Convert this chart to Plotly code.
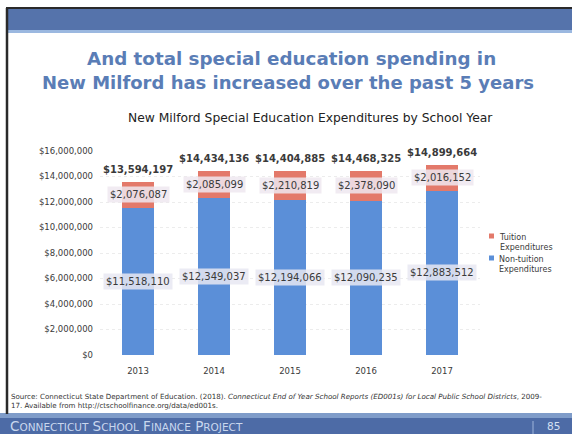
import plotly.graph_objects as go

# School years and expenditure components (USD)
years = ["2013", "2014", "2015", "2016", "2017"]
non_tuition = [11518110, 12349037, 12194066, 12090235, 12883512]
tuition = [2076087, 2085099, 2210819, 2378090, 2016152]
totals = [a + b for a, b in zip(non_tuition, tuition)]

tick_vals = [0, 2e6, 4e6, 6e6, 8e6, 10e6, 12e6, 14e6, 16e6]
tick_text = ["$0", "$2,000,000", "$4,000,000", "$6,000,000", "$8,000,000",
             "$10,000,000", "$12,000,000", "$14,000,000", "$16,000,000"]

series_names = ["Tuition<br>Expenditures", "Non-tuition<br>Expenditures"]

W, H = 572, 434
L, R, T, B = 100, 92, 151, 79
PW, PH = W - L - R, H - T - B


def px(x):
    return (x - L) / PW


def py(y):
    return (H - B - y) / PH


FONT = "DejaVu Sans"
TXT = "#3a3a3a"
BLUE = "#5b8fd8"
RED = "#e3796a"
TITLE = "#5a7db6"


def money(v):
    return "${:,}".format(v)


def page_text(x, y, text, size, color, xanchor="center"):
    return dict(xref="paper", yref="paper", x=px(x), y=py(y), text=text,
                xanchor=xanchor, yanchor="middle", showarrow=False,
                font=dict(family=FONT, size=size, color=color))


fig = go.Figure()
fig.add_trace(go.Bar(x=years, y=non_tuition, name=series_names[1],
                     marker=dict(color=BLUE, line=dict(width=0)), width=0.41))
fig.add_trace(go.Bar(x=years, y=tuition, name=series_names[0],
                     marker=dict(color=RED, line=dict(width=0)), width=0.41))

ann = []
for i, yr in enumerate(years):
    # category axis: annotations are placed by category index
    ann.append(dict(x=i, y=non_tuition[i] / 2, text=money(non_tuition[i]),
                    showarrow=False, font=dict(family=FONT, size=10, color=TXT),
                    bgcolor="rgba(232,232,242,0.85)", borderpad=2))
    ann.append(dict(x=i, y=non_tuition[i] + tuition[i] / 2, text=money(tuition[i]),
                    showarrow=False, font=dict(family=FONT, size=10, color=TXT),
                    bgcolor="rgba(238,232,240,0.85)", borderpad=2))
    ann.append(dict(x=i, y=totals[i], text="<b>" + money(totals[i]) + "</b>",
                    showarrow=False, yanchor="bottom", yshift=5,
                    font=dict(family=FONT, size=10, color=TXT)))

# Legend drawn as swatches + labels beside the plot
legend_rows = [(236, RED, series_names[0]), (258, BLUE, series_names[1])]
shapes = []
for ly, col, name in legend_rows:
    shapes.append(dict(type="rect", xref="paper", yref="paper",
                       x0=px(489), x1=px(494), y0=py(ly + 2.5), y1=py(ly - 2.5),
                       fillcolor=col, line=dict(width=0)))
    ann.append(dict(xref="paper", yref="paper", x=px(497), y=py(ly - 5),
                    xanchor="left", yanchor="top", align="left", text=name,
                    showarrow=False, font=dict(family=FONT, size=8, color=TXT)))

# Slide heading
ann.append(page_text(291, 58, "<b>And total special education spending in</b>", 18.3, TITLE))
ann.append(page_text(288, 82, "<b>New Milford has increased over the past 5 years</b>", 18, TITLE))
# Chart title
ann.append(page_text(310, 118, "New Milford Special Education Expenditures by School Year",
                     12.3, "#222222"))
# Source note
ann.append(page_text(9, 396,
                     "Source: Connecticut State Department of Education. (2018). "
                     "<i>Connecticut End of Year School Reports (ED001s) for Local Public School Districts</i>, 2009-",
                     7.1, "#333333", xanchor="left"))
ann.append(page_text(9, 405, "17. Available from http://ctschoolfinance.org/data/ed001s.",
                     7.1, "#333333", xanchor="left"))
# Footer text
ann.append(page_text(8, 426,
                     "C<span style='font-size:10.5px'>ONNECTICUT</span> S<span style='font-size:10.5px'>CHOOL</span> "
                     "F<span style='font-size:10.5px'>INANCE</span> P<span style='font-size:10.5px'>ROJECT</span>",
                     13.5, "#c9d7ee", xanchor="left"))
ann.append(page_text(553, 426, "85", 10.5, "#d5e0f2"))

shapes += [
    # header band
    dict(type="rect", xref="paper", yref="paper", x0=px(6), x1=px(W), y0=py(30), y1=py(9),
         fillcolor="#5573ab", line=dict(width=0), layer="below"),
    dict(type="rect", xref="paper", yref="paper", x0=px(6), x1=px(W), y0=py(33), y1=py(30),
         fillcolor="#9bb8e0", line=dict(width=0), layer="below"),
    dict(type="line", xref="paper", yref="paper", x0=px(6), x1=px(W), y0=py(8), y1=py(8),
         line=dict(color="#2a2a2a", width=2)),
    # left border
    dict(type="line", xref="paper", yref="paper", x0=px(7), x1=px(7), y0=py(8), y1=py(414),
         line=dict(color="#2a2a2a", width=2.5)),
    # footer band
    dict(type="rect", xref="paper", yref="paper", x0=px(0), x1=px(W), y0=py(H), y1=py(416),
         fillcolor="#4d6ba6", line=dict(width=0), layer="below"),
    dict(type="rect", xref="paper", yref="paper", x0=px(0), x1=px(W), y0=py(418), y1=py(413),
         fillcolor="#7f9cc9", line=dict(width=0), layer="below"),
    dict(type="line", xref="paper", yref="paper", x0=px(533), x1=px(533), y0=py(421), y1=py(H),
         line=dict(color="#9fb5da", width=1)),
]

fig.update_layout(
    width=W, height=H,
    margin=dict(l=L, r=R, t=T, b=B, autoexpand=False),
    paper_bgcolor="white", plot_bgcolor="white",
    barmode="stack",
    font=dict(family=FONT, color=TXT),
    showlegend=False,
    annotations=ann,
    shapes=shapes,
    xaxis=dict(type="category", range=[-0.5, 4.5], showline=False, ticks="",
               tickfont=dict(family=FONT, size=8.5, color=TXT), ticklabelstandoff=9,
               showgrid=False, zeroline=False),
    yaxis=dict(range=[0, 16e6], tickvals=tick_vals, ticktext=tick_text,
               tickfont=dict(family=FONT, size=8.5, color=TXT),
               showgrid=True, gridcolor="#ececec", griddash="dot", gridwidth=1,
               zeroline=False, showline=False, ticks="", ticklabelstandoff=6),
)

fig.write_html("out.html")
